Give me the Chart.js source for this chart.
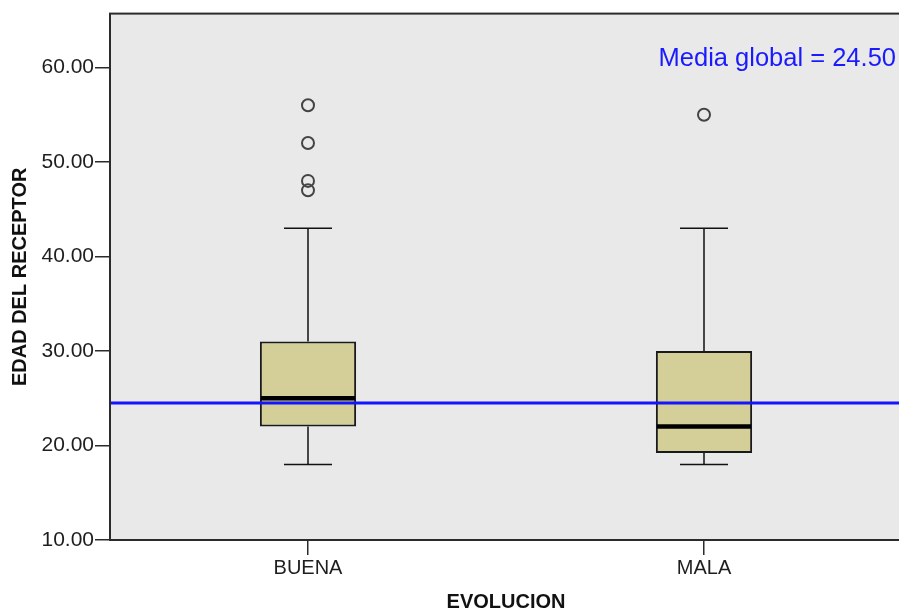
<!DOCTYPE html>
<html>
<head>
<meta charset="utf-8">
<script src="https://cdn.jsdelivr.net/npm/chart.js@4/dist/chart.umd.min.js"></script>
<style>
  html, body { margin: 0; padding: 0; overflow: hidden; background: #fff; }
  #wrap { width: 910px; height: 610px; }
</style>
</head>
<body>
<div id="wrap"><canvas id="chart" width="910" height="610"></canvas></div>
<script>
/* === DATA === */
const categories = ["BUENA", "MALA"];
const whiskerLow = [18, 18];
const q1 = [22, 19.2];
const median = [25, 22];
const q3 = [31, 30];
const whiskerHigh = [43, 43];
const outliersBuena = [56, 52, 48, 47];
const outliersMala = [55];
const globalMean = 24.5;
const yTicks = [10, 20, 30, 40, 50, 60];

const FONT = "'Liberation Sans', Arial, sans-serif";

/* === PLUGINS === */
const plotFrame = {
  id: "plotFrame",
  beforeDraw(chart) {
    const { ctx, chartArea: a } = chart;
    ctx.save();
    ctx.fillStyle = "#e9e9e9";
    ctx.fillRect(a.left, a.top, a.right - a.left, a.bottom - a.top);
    ctx.restore();
  },
  afterDraw(chart) {
    const { ctx, chartArea: a } = chart;
    ctx.save();
    ctx.strokeStyle = "#2b2b2b";
    ctx.lineWidth = 2;
    ctx.strokeRect(a.left, a.top, a.right - a.left, a.bottom - a.top);
    ctx.restore();
  }
};

const whiskers = {
  id: "whiskers",
  beforeDatasetsDraw(chart) {
    const { ctx } = chart;
    const x = chart.scales.x, y = chart.scales.y;
    ctx.save();
    ctx.strokeStyle = "#111";
    ctx.lineWidth = 1.5;
    categories.forEach((c, i) => {
      const cx = x.getPixelForValue(i);
      ctx.beginPath();
      ctx.moveTo(cx, y.getPixelForValue(q3[i]));
      ctx.lineTo(cx, y.getPixelForValue(whiskerHigh[i]));
      ctx.moveTo(cx, y.getPixelForValue(q1[i]));
      ctx.lineTo(cx, y.getPixelForValue(whiskerLow[i]));
      ctx.moveTo(cx - 24, y.getPixelForValue(whiskerHigh[i]));
      ctx.lineTo(cx + 24, y.getPixelForValue(whiskerHigh[i]));
      ctx.moveTo(cx - 24, y.getPixelForValue(whiskerLow[i]));
      ctx.lineTo(cx + 24, y.getPixelForValue(whiskerLow[i]));
      ctx.stroke();
    });
    ctx.restore();
  },
  afterDatasetsDraw(chart) {
    const { ctx, chartArea: a } = chart;
    const x = chart.scales.x, y = chart.scales.y;
    const bar = chart.getDatasetMeta(0).data;
    ctx.save();
    // medians
    ctx.strokeStyle = "#000";
    ctx.lineWidth = 4.5;
    categories.forEach((c, i) => {
      const half = bar[i].width / 2;
      const cx = x.getPixelForValue(i);
      const my = y.getPixelForValue(median[i]);
      ctx.beginPath();
      ctx.moveTo(cx - half + 1, my);
      ctx.lineTo(cx + half - 1, my);
      ctx.stroke();
    });
    // global mean line
    const gy = y.getPixelForValue(globalMean);
    ctx.strokeStyle = "#1414ff";
    ctx.lineWidth = 3;
    ctx.beginPath();
    ctx.moveTo(a.left, gy);
    ctx.lineTo(a.right, gy);
    ctx.stroke();
    ctx.fillStyle = "#1a1aff";
    ctx.font = "25.5px " + FONT;
    ctx.textAlign = "right";
    ctx.textBaseline = "middle";
    ctx.fillText("Media global = " + globalMean.toFixed(2), 896, 59);
    ctx.restore();
  }
};

/* === CHART === */
const outlierPoints = [
  ...outliersBuena.map(v => ({ x: categories[0], y: v })),
  ...outliersMala.map(v => ({ x: categories[1], y: v }))
];

new Chart(document.getElementById("chart"), {
  data: {
    labels: categories,
    datasets: [
      {
        type: "bar",
        data: categories.map((c, i) => [q1[i], q3[i]]),
        backgroundColor: "#d4cf99",
        borderColor: "#1a1a1a",
        borderWidth: 2,
        borderSkipped: false,
        barPercentage: 0.243,
        categoryPercentage: 1
      },
      {
        type: "line",
        data: outlierPoints,
        showLine: false,
        pointStyle: "circle",
        pointRadius: 6,
        pointBorderWidth: 2,
        pointBorderColor: "#444",
        pointBackgroundColor: "rgba(0,0,0,0)"
      }
    ]
  },
  options: {
    responsive: false,
    animation: false,
    devicePixelRatio: 1,
    layout: { padding: { top: 12, right: 4, left: 0, bottom: 0 } },
    plugins: { legend: { display: false }, tooltip: { enabled: false } },
    scales: {
      x: {
        type: "category",
        offset: true,
        grid: { display: true, offset: false, drawOnChartArea: false, drawTicks: true, tickLength: 15, color: "#2b2b2b", lineWidth: 1.5 },
        border: { display: false },
        ticks: { color: "#1e1e1e", padding: 1, font: { family: FONT, size: 20 } },
        title: { display: true, text: "EVOLUCION", color: "#111", padding: { top: 0, bottom: 0 }, font: { family: FONT, size: 20, weight: "bold", lineHeight: 0.8 } },
        afterFit(scale) { scale.height = 70; }
      },
      y: {
        type: "linear",
        min: 10,
        max: 65.7,
        grid: { display: true, drawOnChartArea: false, drawTicks: true, tickLength: 15, color: "#2b2b2b", lineWidth: 1.5 },
        border: { display: false },
        ticks: {
          color: "#1e1e1e",
          padding: 1,
          font: { family: FONT, size: 21 },
          callback: v => Number(v).toFixed(2)
        },
        afterBuildTicks(scale) { scale.ticks = yTicks.map(v => ({ value: v })); },
        title: { display: true, text: "EDAD DEL RECEPTOR", color: "#111", padding: { top: 8, bottom: 0 }, font: { family: FONT, size: 20, weight: "bold", lineHeight: 1.2 } },
        afterFit(scale) { scale.width = 110; }
      }
    }
  },
  plugins: [plotFrame, whiskers]
});
</script>
</body>
</html>
